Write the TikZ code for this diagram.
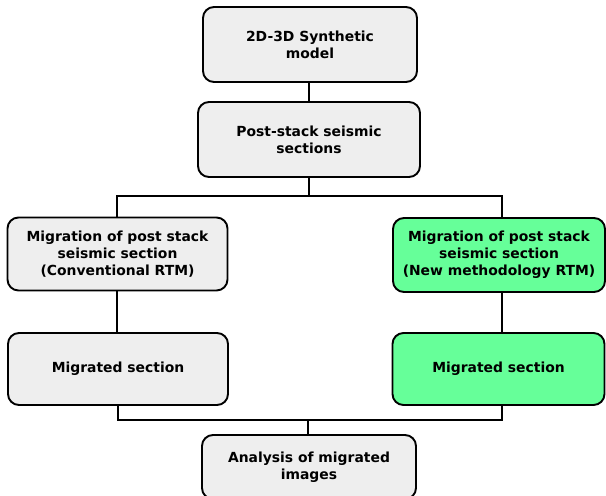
\documentclass[tikz,border=0pt]{standalone}
\usepackage{fontspec}
\setmainfont{DejaVu Sans}
\definecolor{boxgray}{RGB}{238,238,238}
\definecolor{boxgreen}{RGB}{102,255,153}
\begin{document}
\begin{tikzpicture}[x=1pt,y=-1pt,
  box/.style={draw=black, line width=1.9pt, rounded corners=11pt, fill=boxgray,
    align=center, inner sep=0pt, font=\fontsize{13.9}{17}\selectfont\bfseries},
  greenbox/.style={box, fill=boxgreen},
  link/.style={draw=black, line width=1.8pt}]
\clip (0,0) rectangle (606,496);
\useasboundingbox (0,0) rectangle (606,496);
\node[box, minimum width=214pt, minimum height=75pt] (top) at (310,44.5) {2D-3D Synthetic\\model};
\node[box, minimum width=222pt, minimum height=75pt] (sec) at (309,139.5) {Post-stack seismic\\sections};
\node[box, minimum width=220pt, minimum height=73pt] (l1) at (117.5,254) {Migration of post stack\\seismic section\\(Conventional RTM)};
\node[box, minimum width=220pt, minimum height=72pt] (l2) at (118,369) {Migrated section};
\node[greenbox, minimum width=212pt, minimum height=74pt] (r1) at (499,255) {Migration of post stack\\seismic section\\(New methodology RTM)};
\node[greenbox, minimum width=212pt, minimum height=72pt] (r2) at (498.5,369) {Migrated section};
\node[box, minimum width=214pt, minimum height=64pt] (bot) at (309,467) {Analysis of migrated\\images};
\coordinate (sm) at (309,196);
\coordinate (sl) at (117,196);
\coordinate (sr) at (502,196);
\coordinate (ml) at (118,420);
\coordinate (mm) at (308,420);
\coordinate (mr) at (502,420);
\draw[link] (top.south -| sm) -- (sec.north -| sm);
\draw[link] (sec.south -| sm) -- (sm);
\draw[link] (sl |- l1.north) -- (sl) -- (sr) -- (sr |- r1.north);
\draw[link] (l1.south -| sl) -- (l2.north -| sl);
\draw[link] (r1.south -| sr) -- (r2.north -| sr);
\draw[link] (l2.south -| ml) -- (ml) -- (mr) -- (r2.south -| mr);
\draw[link] (mm) -- (bot.north -| mm);
\end{tikzpicture}
\end{document}
